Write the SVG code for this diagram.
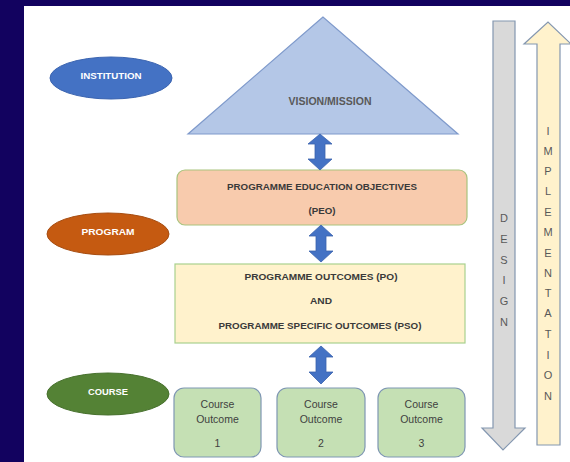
<svg xmlns="http://www.w3.org/2000/svg" width="570" height="462" viewBox="0 0 570 462">
<defs>
<style>
.lbl{font-family:"Liberation Sans",Arial,sans-serif;font-weight:bold;fill:#ffffff;text-anchor:middle;dominant-baseline:central}
.t{font-family:"Liberation Sans",Arial,sans-serif;font-weight:bold;fill:#3a3a3a;text-anchor:middle;dominant-baseline:central;font-size:8.5px}
.co{font-family:"Liberation Sans",Arial,sans-serif;fill:#404040;text-anchor:middle;dominant-baseline:central;font-size:10.5px}
.v{font-family:"Liberation Sans",Arial,sans-serif;fill:#595959;text-anchor:middle;dominant-baseline:central;font-size:11px}
.dbl{fill:#4472c4;stroke:#3a62ad;stroke-width:0.8}
</style>
</defs>
<rect x="0" y="0" width="570" height="462" fill="#12025f"/>
<rect x="24" y="6" width="546" height="456" fill="#ffffff"/>

<g id="institution">
<ellipse cx="111" cy="78" rx="61" ry="21" fill="#4472c4" stroke="#3b64b0" stroke-width="1"/>
<text class="lbl" x="111" y="76" font-size="9" textLength="61" lengthAdjust="spacingAndGlyphs">INSTITUTION</text>
</g>
<g id="program">
<ellipse cx="108" cy="234" rx="61" ry="21" fill="#c55a11" stroke="#a64c10" stroke-width="1"/>
<text class="lbl" x="108" y="232" font-size="9" textLength="53" lengthAdjust="spacingAndGlyphs">PROGRAM</text>
</g>
<g id="course">
<ellipse cx="108" cy="394" rx="61" ry="21" fill="#548235" stroke="#46702c" stroke-width="1"/>
<text class="lbl" x="108" y="392" font-size="9" textLength="40" lengthAdjust="spacingAndGlyphs">COURSE</text>
</g>

<g id="vision">
<polygon points="323,17 188,134 458,134" fill="#b4c7e7" stroke="#7f9acb" stroke-width="1.2"/>
<text class="v" x="330" y="101" font-weight="bold" font-size="8.5" textLength="83" lengthAdjust="spacingAndGlyphs">VISION/MISSION</text>
</g>

<g id="peo">
<rect x="177" y="170" width="290" height="55" rx="8" fill="#f8cbad" stroke="#a9c47f" stroke-width="1.2"/>
<text class="t" x="322" y="187" textLength="190" lengthAdjust="spacingAndGlyphs">PROGRAMME EDUCATION OBJECTIVES</text>
<text class="t" x="322" y="211" textLength="27" lengthAdjust="spacingAndGlyphs">(PEO)</text>
</g>

<g id="po">
<rect x="175" y="264" width="290" height="79" fill="#fff2cc" stroke="#a9d18e" stroke-width="1.2"/>
<text class="t" x="321" y="277" textLength="153" lengthAdjust="spacingAndGlyphs">PROGRAMME OUTCOMES (PO)</text>
<text class="t" x="321" y="301" textLength="22" lengthAdjust="spacingAndGlyphs">AND</text>
<text class="t" x="320" y="326" textLength="203" lengthAdjust="spacingAndGlyphs">PROGRAMME SPECIFIC OUTCOMES (PSO)</text>
</g>

<g id="co1">
<rect x="174" y="388" width="87" height="69" rx="10" fill="#c5e0b4" stroke="#7f97b3" stroke-width="1.2"/>
<text class="co" x="217.5" y="404">Course</text>
<text class="co" x="217.5" y="419">Outcome</text>
<text class="co" x="217.5" y="443">1</text>
</g>
<g id="co2">
<rect x="277" y="388" width="88" height="69" rx="10" fill="#c5e0b4" stroke="#7f97b3" stroke-width="1.2"/>
<text class="co" x="321" y="404">Course</text>
<text class="co" x="321" y="419">Outcome</text>
<text class="co" x="321" y="443">2</text>
</g>
<g id="co3">
<rect x="378" y="388" width="87" height="69" rx="10" fill="#c5e0b4" stroke="#7f97b3" stroke-width="1.2"/>
<text class="co" x="421.5" y="404">Course</text>
<text class="co" x="421.5" y="419">Outcome</text>
<text class="co" x="421.5" y="443">3</text>
</g>

<g id="connectors">
<path class="dbl" d="M320,134 L332,144 L325,144 L325,159 L332,159 L320,170 L308,159 L315,159 L315,144 L308,144 Z"/>
<path class="dbl" d="M321,225 L333,236 L326,236 L326,251 L333,251 L321,262 L309,251 L316,251 L316,236 L309,236 Z"/>
<path class="dbl" d="M321,346 L333,357 L326,357 L326,372 L333,372 L321,384 L309,372 L316,372 L316,357 L309,357 Z"/>
</g>

<g id="design">
<path d="M493,21 L515,21 L515,428 L525,428 L503,450 L482,428 L493,428 Z" fill="#d9d9d9" stroke="#8497b0" stroke-width="1.2"/>
<text class="v" x="504" y="218">D</text>
<text class="v" x="504" y="239">E</text>
<text class="v" x="504" y="260">S</text>
<text class="v" x="504" y="280">I</text>
<text class="v" x="504" y="301">G</text>
<text class="v" x="504" y="322">N</text>
</g>

<g id="implementation">
<path d="M537,445 L560,445 L560,44 L571,44 L548,22 L524,44 L537,44 Z" fill="#fff2cc" stroke="#8497b0" stroke-width="1.2"/>
<text class="v" x="548" y="131">I</text>
<text class="v" x="548" y="151">M</text>
<text class="v" x="548" y="171">P</text>
<text class="v" x="548" y="191">L</text>
<text class="v" x="548" y="212">E</text>
<text class="v" x="548" y="232">M</text>
<text class="v" x="548" y="253">E</text>
<text class="v" x="548" y="273">N</text>
<text class="v" x="548" y="293">T</text>
<text class="v" x="548" y="313">A</text>
<text class="v" x="548" y="334">T</text>
<text class="v" x="548" y="355">I</text>
<text class="v" x="548" y="375">O</text>
<text class="v" x="548" y="396">N</text>
</g>
</svg>
